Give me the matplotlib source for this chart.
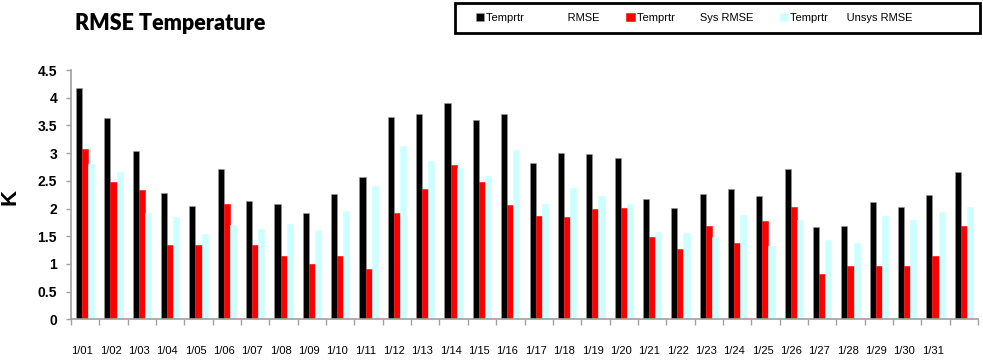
import numpy as np
import matplotlib
matplotlib.use("Agg")
import matplotlib.pyplot as plt
from matplotlib.patches import Rectangle

# Data
days = ["1/%02d" % d for d in range(1, 32)] + [""]

rmse = [4.17, 3.63, 3.03, 2.28, 2.05, 2.72, 2.14, 2.08, 1.91, 2.26,
        2.57, 3.65, 3.70, 3.90, 3.59, 3.70, 2.82, 3.01, 2.99, 2.91,
        2.18, 2.01, 2.26, 2.35, 2.23, 2.72, 1.66, 1.68, 2.12, 2.03,
        2.24, 2.65]
sys_rmse = [3.07, 2.48, 2.33, 1.35, 1.35, 2.09, 1.35, 1.14, 0.99, 1.14,
            0.91, 1.91, 2.35, 2.78, 2.47, 2.06, 1.87, 1.85, 1.99, 2.01,
            1.49, 1.27, 1.68, 1.37, 1.77, 2.03, 0.81, 0.96, 0.96, 0.97,
            1.14, 1.68]
unsys_rmse = [2.80, 2.66, 1.92, 1.85, 1.54, 1.70, 1.63, 1.72, 1.62, 1.95,
              2.41, 3.13, 2.86, 2.74, 2.59, 3.06, 2.09, 2.37, 2.23, 2.09,
              1.58, 1.56, 1.49, 1.89, 1.33, 1.80, 1.43, 1.37, 1.87, 1.79,
              1.93, 2.03]

series_labels = ["Temprtr              RMSE", "Temprtr        Sys RMSE",
                 "Temprtr      Unsys RMSE"]
colors = ["#000000", "#FF0000", "#CCFFFF"]

plt.rcParams["font.family"] = ["Liberation Sans", "DejaVu Sans"]

fig = plt.figure(figsize=(9.83, 3.62), dpi=100)
ax = fig.add_axes([71 / 983, 1 - 319.3 / 362, 907 / 983, 249.3 / 362])

x = np.arange(len(rmse))
w = 0.215
bars = []
for i, (vals, c) in enumerate(zip([rmse, sys_rmse, unsys_rmse], colors)):
    b = ax.bar(x + (i - 1) * w, vals, width=w, color=c,
               edgecolor="#9a9a9a" if i == 0 else c, linewidth=0.4)
    bars.append(b)

ax.set_xlim(-0.5, len(rmse) - 0.5)
ax.set_ylim(0, 4.5)
ax.set_yticks(np.arange(0, 4.51, 0.5))
ax.set_yticklabels(["%g" % v for v in np.arange(0, 4.51, 0.5)],
                   fontsize=10, fontweight="bold")

# boundaries as tick marks, day labels under group centres
ax.set_xticks(np.arange(-0.5, len(rmse), 1.0))
ax.set_xticklabels([])
ax.set_xticks(x - 0.1, minor=True)
ax.set_xticklabels(days, minor=True, fontsize=8)
ax.tick_params(axis="x", which="minor", length=0, pad=19)
ax.tick_params(axis="x", which="major", length=4, color="#a0a0a0", width=1)
ax.tick_params(axis="y", length=3.5, color="#a0a0a0", width=1, pad=6.5)

for s in ["top", "right"]:
    ax.spines[s].set_visible(False)
for s in ["left", "bottom"]:
    ax.spines[s].set_color("#a0a0a0")
    ax.spines[s].set_linewidth(1.2)

ax.set_ylabel("K", fontsize=16, fontweight="bold")
ax.yaxis.set_label_coords(-0.056, 0.49)

fig.text(75 / 983, 1 - 23 / 362, "RMSE Temperature", family=["Lato", "DejaVu Sans"],
         fontsize=15.5, fontweight="heavy", va="center", ha="left")

# legend with a hand drawn frame
fig.patches.append(Rectangle((455 / 983, 1 - 33 / 362), 525 / 983, 30 / 362,
                             transform=fig.transFigure, fill=False,
                             edgecolor="black", linewidth=2))
fig.legend(bars, series_labels, ncol=3, loc="center left",
           bbox_to_anchor=(470 / 983, 1 - 18 / 362), frameon=False,
           fontsize=8, handlelength=0.75, handleheight=0.75,
           handletextpad=0.2, columnspacing=2.4, borderpad=0)

fig.savefig("out.png", dpi=100)
